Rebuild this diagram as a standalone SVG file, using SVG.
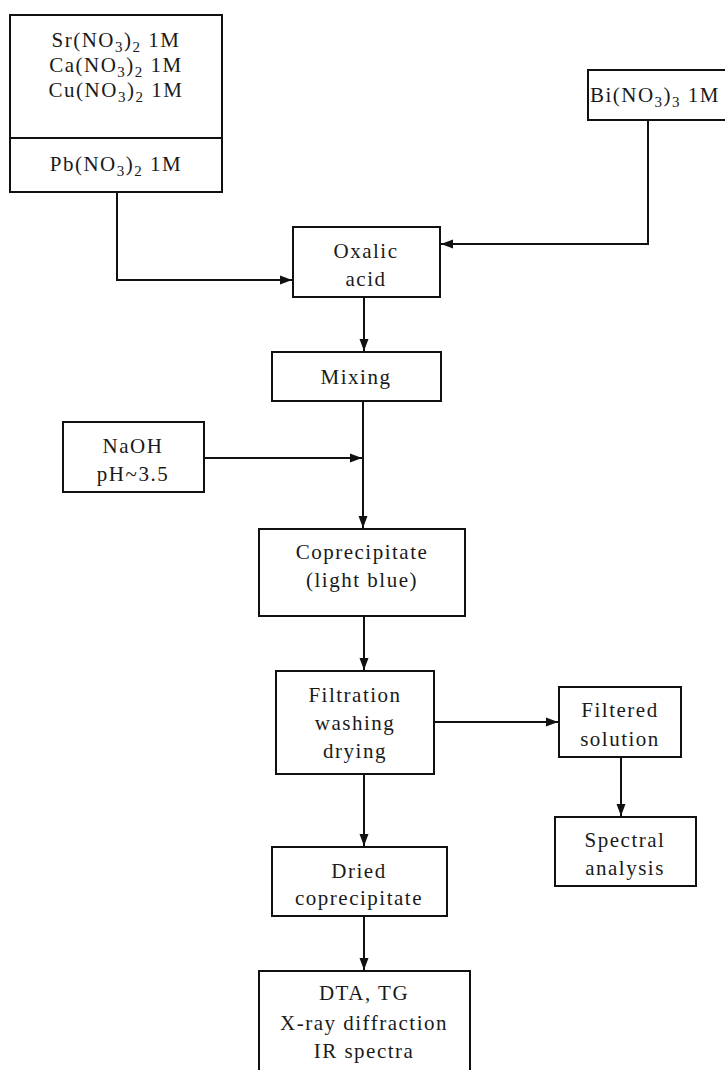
<svg xmlns="http://www.w3.org/2000/svg" width="725" height="1070" viewBox="0 0 725 1070">
<style>
.box{fill:#fff;stroke:#111;stroke-width:2}
.ln{fill:none;stroke:#111;stroke-width:2}
.lbl{text-anchor:middle;letter-spacing:1.5px}
.sub{font-size:15px}
</style>
<defs>
<marker id="ah" viewBox="0 0 12 10" refX="12" refY="5" markerWidth="12" markerHeight="10" markerUnits="userSpaceOnUse" orient="auto">
<path d="M0,0.5 L12,5 L0,9.5 Z" fill="#111"/>
</marker>
</defs>
<rect width="725" height="1070" fill="#fff"/>
<g id="connectors">
<path class="ln" d="M117,192 V280 H292" marker-end="url(#ah)"/>
<path class="ln" d="M648,120 V244 H441" marker-end="url(#ah)"/>
<path class="ln" d="M364,297 V351" marker-end="url(#ah)"/>
<path class="ln" d="M363,401 V528" marker-end="url(#ah)"/>
<path class="ln" d="M204,458 H362" marker-end="url(#ah)"/>
<path class="ln" d="M364,616 V670" marker-end="url(#ah)"/>
<path class="ln" d="M434,722 H558" marker-end="url(#ah)"/>
<path class="ln" d="M621,757 V816" marker-end="url(#ah)"/>
<path class="ln" d="M364,774 V846" marker-end="url(#ah)"/>
<path class="ln" d="M364,916 V970" marker-end="url(#ah)"/>
</g>
<g font-family="'Liberation Serif'" font-size="21" fill="#1a1a1a">
<g id="nitrates">
<rect class="box" x="10" y="15" width="212" height="177"/>
<line class="ln" x1="10" y1="138" x2="222" y2="138"/>
<text class="lbl" x="116" y="47">Sr(NO<tspan class="sub" dy="5">3</tspan><tspan dy="-5">)</tspan><tspan class="sub" dy="5">2</tspan><tspan dy="-5"> 1M</tspan></text>
<text class="lbl" x="116" y="72">Ca(NO<tspan class="sub" dy="5">3</tspan><tspan dy="-5">)</tspan><tspan class="sub" dy="5">2</tspan><tspan dy="-5"> 1M</tspan></text>
<text class="lbl" x="116" y="97">Cu(NO<tspan class="sub" dy="5">3</tspan><tspan dy="-5">)</tspan><tspan class="sub" dy="5">2</tspan><tspan dy="-5"> 1M</tspan></text>
<text class="lbl" x="116" y="171">Pb(NO<tspan class="sub" dy="5">3</tspan><tspan dy="-5">)</tspan><tspan class="sub" dy="5">2</tspan><tspan dy="-5"> 1M</tspan></text>
</g>
<g id="bi">
<rect class="box" x="588" y="70" width="140" height="50"/>
<text class="lbl" x="655" y="102">Bi(NO<tspan class="sub" dy="5">3</tspan><tspan dy="-5">)</tspan><tspan class="sub" dy="5">3</tspan><tspan dy="-5"> 1M</tspan></text>
</g>
<g id="oxalic">
<rect class="box" x="293" y="227" width="147" height="70"/>
<text class="lbl" x="366" y="258">Oxalic</text>
<text class="lbl" x="366" y="286">acid</text>
</g>
<g id="mixing">
<rect class="box" x="272" y="352" width="169" height="49"/>
<text class="lbl" x="356" y="384">Mixing</text>
</g>
<g id="naoh">
<rect class="box" x="63" y="422" width="141" height="70"/>
<text class="lbl" x="133" y="453">NaOH</text>
<text class="lbl" x="133" y="481">pH~3.5</text>
</g>
<g id="coprecipitate">
<rect class="box" x="259" y="529" width="206" height="87"/>
<text class="lbl" x="362" y="559">Coprecipitate</text>
<text class="lbl" x="362" y="587">(light blue)</text>
</g>
<g id="filtration">
<rect class="box" x="276" y="671" width="158" height="103"/>
<text class="lbl" x="355" y="702">Filtration</text>
<text class="lbl" x="355" y="730">washing</text>
<text class="lbl" x="355" y="758">drying</text>
</g>
<g id="filtered">
<rect class="box" x="559" y="687" width="122" height="70"/>
<text class="lbl" x="620" y="717">Filtered</text>
<text class="lbl" x="620" y="746">solution</text>
</g>
<g id="spectral">
<rect class="box" x="555" y="817" width="141" height="69"/>
<text class="lbl" x="625" y="847">Spectral</text>
<text class="lbl" x="625" y="875">analysis</text>
</g>
<g id="dried">
<rect class="box" x="272" y="847" width="175" height="69"/>
<text class="lbl" x="359" y="878">Dried</text>
<text class="lbl" x="359" y="905">coprecipitate</text>
</g>
<g id="analysis">
<rect class="box" x="259" y="971" width="211" height="110"/>
<text class="lbl" x="364" y="1000">DTA, TG</text>
<text class="lbl" x="364" y="1030">X-ray diffraction</text>
<text class="lbl" x="364" y="1058">IR spectra</text>
</g>
</g>
</svg>
